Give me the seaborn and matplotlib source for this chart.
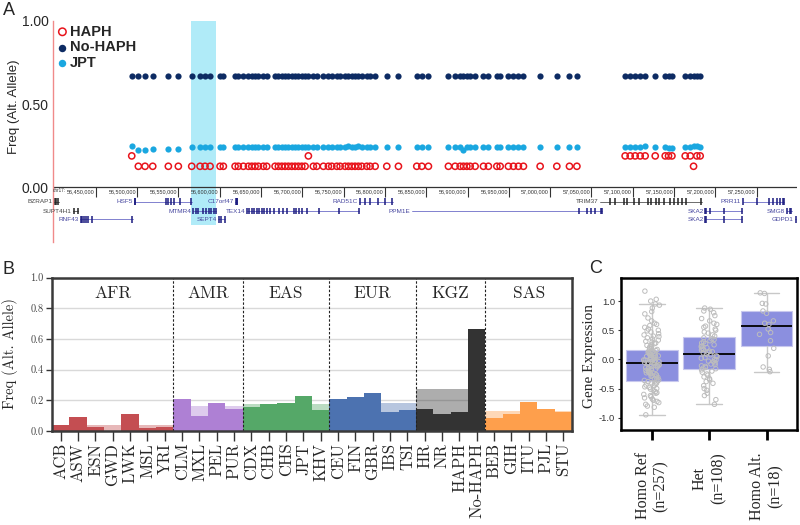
import numpy as np
import pandas as pd
import matplotlib
matplotlib.use("Agg")
import matplotlib.pyplot as plt
import seaborn as sns

sns.set_theme(style="white")
plt.rcParams['font.family'] = ['Liberation Sans', 'DejaVu Sans']
CM = ['cmr10', 'DejaVu Serif']
TIMES = ['Liberation Serif', 'DejaVu Serif']

# ---------------- panel A: allele frequency along chr17 ----------------
# SNP positions in kb
snp_kb = [56493.6, 56501.6, 56509.7, 56519.0, 56537.9, 56550.0, 56566.2, 56576.3, 56582.3, 56588.4,
          56600.5, 56604.5, 56618.7, 56622.6, 56628.7, 56634.8, 56638.9, 56642.9, 56646.9, 56652.9,
          56657.0, 56667.1, 56671.1, 56675.2, 56679.2, 56683.2, 56687.3, 56691.3, 56695.3, 56699.4,
          56703.4, 56707.4, 56713.4, 56717.6, 56725.6, 56731.6, 56735.7, 56741.8, 56745.8, 56751.8,
          56755.8, 56759.9, 56763.9, 56767.9, 56772.0, 56778.1, 56782.1, 56788.2, 56802.3, 56816.4,
          56838.6, 56844.7, 56852.7, 56876.9, 56885.0, 56891.1, 56895.1, 56899.2, 56903.2, 56909.2,
          56919.3, 56925.3, 56935.5, 56939.5, 56949.5, 56955.6, 56961.6, 56967.7, 56987.9, 57008.1,
          57023.4, 57032.4, 57090.8, 57096.9, 57102.9, 57109.0, 57115.0, 57127.2, 57139.3, 57143.3,
          57147.4, 57163.5, 57169.6, 57173.6, 57177.6, 57181.6]

haph_freq = [0.1875, 0.125, 0.125, 0.125, 0.125, 0.125, 0.125, 0.125, 0.125, 0.125,
             0.125, 0.125, 0.125, 0.125, 0.125, 0.125, 0.125, 0.125, 0.125, 0.125,
             0.125, 0.125, 0.125, 0.125, 0.125, 0.125, 0.125, 0.125, 0.125, 0.125,
             0.125, 0.1875, 0.125, 0.125, 0.125, 0.125, 0.125, 0.125, 0.125, 0.125,
             0.125, 0.125, 0.125, 0.125, 0.125, 0.125, 0.125, 0.125, 0.125, 0.125,
             0.125, 0.125, 0.125, 0.125, 0.125, 0.125, 0.125, 0.125, 0.125, 0.125,
             0.125, 0.125, 0.125, 0.125, 0.125, 0.125, 0.125, 0.125, 0.125, 0.125,
             0.125, 0.125, 0.1875, 0.1875, 0.1875, 0.1875, 0.1875, 0.1875, 0.1875, 0.1875,
             0.1875, 0.1875, 0.1875, 0.125, 0.1875, 0.1875]

no_haph_freq = [0.667, 0.667, 0.667, 0.667, 0.667, 0.667, 0.667, 0.667, 0.667, 0.667,
                0.667, 0.667, 0.667, 0.667, 0.667, 0.667, 0.667, 0.667, 0.667, 0.667,
                0.667, 0.667, 0.667, 0.667, 0.667, 0.667, 0.667, 0.667, 0.667, 0.667,
                0.667, 0.667, 0.667, 0.667, 0.667, 0.667, 0.667, 0.667, 0.667, 0.667,
                0.667, 0.667, 0.667, 0.667, 0.667, 0.667, 0.667, 0.667, 0.667, 0.667,
                0.667, 0.667, 0.667, 0.667, 0.667, 0.667, 0.667, 0.667, 0.667, 0.667,
                0.667, 0.667, 0.667, 0.667, 0.667, 0.667, 0.667, 0.667, 0.667, 0.667,
                0.667, 0.667, 0.667, 0.667, 0.667, 0.667, 0.667, 0.667, 0.667, 0.667,
                0.667, 0.667, 0.667, 0.667, 0.667, 0.667]

jpt_freq = [0.245, 0.225, 0.225, 0.228, 0.23, 0.232, 0.24, 0.24, 0.24, 0.24,
            0.24, 0.24, 0.242, 0.242, 0.24, 0.24, 0.24, 0.24, 0.24, 0.24,
            0.24, 0.24, 0.24, 0.24, 0.24, 0.24, 0.24, 0.24, 0.24, 0.24,
            0.24, 0.24, 0.24, 0.24, 0.24, 0.24, 0.24, 0.24, 0.24, 0.24,
            0.245, 0.24, 0.24, 0.245, 0.24, 0.24, 0.24, 0.24, 0.24, 0.24,
            0.24, 0.24, 0.24, 0.24, 0.24, 0.24, 0.222, 0.24, 0.24, 0.24,
            0.24, 0.24, 0.24, 0.24, 0.24, 0.24, 0.24, 0.24, 0.24, 0.24,
            0.24, 0.24, 0.24, 0.24, 0.24, 0.24, 0.245, 0.24, 0.24, 0.235,
            0.235, 0.24, 0.24, 0.245, 0.245, 0.24]

highlight_kb = (56565.4, 56595.6)
genome_ticks_kb = [56450, 56500, 56550, 56600, 56650, 56700, 56750, 56800, 56850,
                   56900, 56950, 57000, 57050, 57100, 57150, 57200, 57250]

# gene track: name, start, end, row, exon positions (kb)
gene_names = ['BZRAP1', 'SUPT4H1', 'RNF43', 'HSF5', 'MTMR4', 'SEPT4', 'C17orf47', 'TEX14',
              'RAD51C', 'PPM1E', 'TRIM37', 'SKA2', 'SKA2', 'PRR11', 'SMG8', 'GDPD1']
gene_start = [56399.5, 56423.0, 56431.0, 56496.4, 56567.4, 56598.4, 56619.0, 56632.8,
              56769.0, 56832.6, 57060.5, 57187.7, 57187.7, 57233.3, 57286.6, 57296.6]
gene_end = [56405.6, 56429.0, 56494.8, 56566.2, 56595.6, 56606.5, 56621.5, 56769.0,
            56810.0, 57062.6, 57183.7, 57232.0, 57232.0, 57283.3, 57292.7, 57298.0]
gene_row = [0, 1, 2, 0, 1, 2, 0, 1, 0, 1, 0, 1, 2, 0, 1, 2]
gene_exons = [[56400.5, 56402.5, 56404.5],
              [56423.5, 56428.5],
              [56432, 56434, 56436, 56438, 56441, 56446, 56494],
              [56497, 56497.8, 56535, 56538, 56541, 56545, 56552, 56565],
              [56568, 56571, 56574, 56580, 56584, 56587, 56590, 56593, 56595],
              [56599, 56602, 56606],
              [56619.5, 56620.5, 56621.3],
              [56633, 56636, 56639, 56642, 56645, 56648, 56651, 56654, 56657, 56661, 56666,
               56672, 56677, 56681, 56690, 56693, 56696, 56700, 56706, 56720, 56745, 56769],
              [56770, 56776, 56782, 56792, 56800, 56809],
              [57035, 57045, 57050, 57054, 57061, 57062.5],
              [57072, 57078, 57090, 57093, 57102, 57108, 57118, 57122, 57128, 57132, 57138,
               57145, 57150, 57155, 57160, 57165, 57183],
              [57188, 57188.8, 57194, 57210, 57232],
              [57188, 57188.8, 57210, 57232],
              [57234, 57250, 57265, 57270, 57275, 57278, 57282, 57283.3],
              [57287, 57290, 57292],
              [57297]]
gene_dark = ['BZRAP1', 'SUPT4H1', 'TRIM37']

# ---------------- panel B: population frequencies ----------------
pops = ['ACB', 'ASW', 'ESN', 'GWD', 'LWK', 'MSL', 'YRI',
        'CLM', 'MXL', 'PEL', 'PUR',
        'CDX', 'CHB', 'CHS', 'JPT', 'KHV',
        'CEU', 'FIN', 'GBR', 'IBS', 'TSI',
        'HR', 'NR', 'HAPH', 'No-HAPH',
        'BEB', 'GIH', 'ITU', 'PJL', 'STU']
pop_group = ['AFR'] * 7 + ['AMR'] * 4 + ['EAS'] * 5 + ['EUR'] * 5 + ['KGZ'] * 4 + ['SAS'] * 5
pop_freq = [0.040, 0.090, 0.028, 0.000, 0.109, 0.017, 0.028,
            0.211, 0.100, 0.181, 0.142,
            0.159, 0.178, 0.180, 0.229, 0.137,
            0.209, 0.222, 0.246, 0.126, 0.137,
            0.144, 0.111, 0.122, 0.667,
            0.087, 0.111, 0.192, 0.146, 0.126]
groups = ['AFR', 'AMR', 'EAS', 'EUR', 'KGZ', 'SAS']
group_mean = [0.037, 0.160, 0.176, 0.185, 0.272, 0.130]
group_colors = ['#c44e52', '#ae80d4', '#55a868', '#4c72b0', '#333333', '#fe9f4c']

# ---------------- panel C: gene expression by genotype ----------------
genotypes = ['Homo Ref\n(n=257)', 'Het\n(n=108)', 'Homo Alt.\n(n=18)']
box_q1 = [-0.37, -0.17, 0.23]
box_med = [-0.06, 0.10, 0.57]
box_q3 = [0.16, 0.38, 0.83]
whis_lo = [-0.95, -0.77, -0.21]
whis_hi = [0.95, 0.88, 1.14]

expr_ref = [1.17, 1.03, 1.00, 0.95, 0.93, 0.88, 0.82, 0.78, 0.71, 0.66, 0.62, 0.60, 0.58, 0.55,
            0.52, 0.50, 0.49, 0.47, 0.44, 0.42, 0.40, 0.39, 0.37, 0.35, 0.33, 0.31, 0.30, 0.28,
            0.27, 0.25, 0.24, 0.22, 0.21, 0.19, 0.18, 0.17,
            0.15, 0.14, 0.13, 0.12, 0.12, 0.11, 0.10, 0.09, 0.08, 0.07, 0.07, 0.06, 0.05, 0.04,
            0.03, 0.03, 0.02, 0.01, 0.00, -0.01, -0.01, -0.02, -0.03, -0.03, -0.04, -0.05,
            -0.05, -0.06,
            -0.07, -0.08, -0.09, -0.10, -0.11, -0.12, -0.13, -0.14, -0.15, -0.16, -0.17, -0.18,
            -0.19, -0.20, -0.21, -0.22, -0.23, -0.24, -0.25, -0.26, -0.27, -0.28, -0.29, -0.30,
            -0.31, -0.33, -0.34, -0.35, -0.36, -0.37,
            -0.38, -0.40, -0.41, -0.42, -0.44, -0.45, -0.47, -0.48, -0.50, -0.51, -0.53, -0.55,
            -0.57, -0.58, -0.60, -0.62, -0.64, -0.66, -0.68, -0.70, -0.72, -0.74, -0.77, -0.80,
            -0.82, -0.95]
expr_het = [0.88, 0.86, 0.83, 0.80, 0.75, 0.70, 0.66, 0.62, 0.60, 0.57, 0.55, 0.52, 0.50, 0.47,
            0.45, 0.42, 0.40,
            0.37, 0.35, 0.34, 0.32, 0.30, 0.28, 0.27, 0.25, 0.23, 0.22, 0.20, 0.19, 0.17, 0.16,
            0.14, 0.13, 0.12, 0.11,
            0.09, 0.08, 0.06, 0.05, 0.03, 0.02, 0.00, -0.01, -0.03, -0.04, -0.06, -0.08, -0.09,
            -0.11, -0.12, -0.14, -0.15, -0.16,
            -0.18, -0.20, -0.22, -0.25, -0.27, -0.30, -0.33, -0.35, -0.38, -0.41, -0.45, -0.50,
            -0.53, -0.58, -0.62, -0.69, -0.77]
expr_alt = [1.14, 1.13, 0.96, 0.95, 0.83, 0.79, 0.66, 0.62, 0.60, 0.52, 0.46, 0.43, 0.32, 0.19,
            0.06, -0.13, -0.17, -0.21]

fig = plt.figure(figsize=(8, 5.25), dpi=100)

# ======================= A =======================
axA = fig.add_axes([53 / 800, 1 - 242 / 525, 744 / 800, 221 / 525])
axA.axvspan(*highlight_kb, ymin=17 / 221, ymax=1, color='#b0ebf8', lw=0, zorder=0)

dfA = pd.DataFrame({'pos': snp_kb, 'HAPH': haph_freq, 'No-HAPH': no_haph_freq, 'JPT': jpt_freq})
sns.scatterplot(data=dfA, x='pos', y='HAPH', ax=axA, s=20, facecolor='none',
                edgecolor='#e8141c', linewidth=1.1, label='HAPH', zorder=3)
sns.scatterplot(data=dfA, x='pos', y='No-HAPH', ax=axA, s=20, color='#0d2b63',
                edgecolor='#0d2b63', linewidth=0, label='No-HAPH', zorder=3)
sns.scatterplot(data=dfA, x='pos', y='JPT', ax=axA, s=20, color='#1aa7e0',
                edgecolor='#1aa7e0', linewidth=0, label='JPT', zorder=3)

axA.set_xlim(56398.3, 57298.8)
axA.set_ylim(-0.331, 1.0)
axA.set_yticks([0, 0.5, 1.0])
axA.set_yticklabels(['0.00', '0.50', '1.00'], fontsize=10)
axA.tick_params(axis='y', length=0, pad=3)
axA.set_xticks([])
axA.set_xlabel('')
axA.set_ylabel('')
for side in ['top', 'right', 'bottom']:
    axA.spines[side].set_visible(False)
axA.spines['left'].set_color('#f08a8a')
axA.spines['left'].set_linewidth(1.0)

axA.legend(loc='upper left', bbox_to_anchor=(-0.006, 1.01), frameon=False,
           prop={'weight': 'bold', 'size': 10.5}, handletextpad=-0.05,
           labelspacing=0.12, borderaxespad=0.0, handlelength=1.1, markerscale=1.2)
fig.text(14 / 800, 1 - 107 / 525, 'Freq (Alt. Allele)', rotation=90, ha='center', va='center',
         fontsize=9.5)

# genomic axis
axA.axhline(0, color='#333333', lw=0.9, zorder=2)
axA.vlines(genome_ticks_kb, -0.06, 0, color='#333333', lw=0.8)
for t in genome_ticks_kb:
    axA.text(t - 1.2, -0.014, f'{t * 1000:,}', ha='right', va='top', fontsize=4.0, color='#333333')
axA.text(56398.6, -0.006, 'chr17:', ha='left', va='top', fontsize=3.3, color='#333333')

row_y = [-0.089, -0.145, -0.195]
for name, st, en, row, ex in zip(gene_names, gene_start, gene_end, gene_row, gene_exons):
    y = row_y[row]
    dark = name in gene_dark
    lc = '#555555' if dark else '#6c6cc8'
    ec = '#222222' if dark else '#1b1b80'
    tc = '#444444' if dark else '#4848a0'
    axA.plot([st, en], [y, y], color=lc, lw=0.6, clip_on=False)
    axA.vlines(ex, y - 0.02, y + 0.02, color=ec, lw=1.1, clip_on=False)
    axA.text(st - 2.0, y, name, ha='right', va='center', fontsize=4.6, color=tc, clip_on=False)

# ======================= B =======================
axB = fig.add_axes([52 / 800, 1 - 431 / 525, 520 / 800, 153.3 / 525])
dfB = pd.DataFrame({'pop': pops, 'group': pop_group, 'freq': pop_freq})
dfB['mean'] = dfB['group'].map(dict(zip(groups, group_mean)))
pal = {p: dict(zip(groups, group_colors))[g] for p, g in zip(pops, pop_group)}

axB.yaxis.grid(True, color='#d9d9d9', lw=1)
axB.set_axisbelow(True)
sns.barplot(data=dfB, x='pop', y='mean', hue='pop', order=pops, palette=pal, width=1,
            saturation=1, alpha=0.4, errorbar=None, legend=False, ax=axB, linewidth=0)
sns.barplot(data=dfB, x='pop', y='freq', hue='pop', order=pops, palette=pal, width=1,
            saturation=1, errorbar=None, legend=False, ax=axB, linewidth=0)

axB.set_xlim(-0.5, len(pops) - 0.5)
axB.set_ylim(0, 1.0)
axB.set_xlabel('')
axB.set_ylabel('')
bounds = []
for g in groups:
    idx = [i for i, pg in enumerate(pop_group) if pg == g]
    axB.text(np.mean(idx), 0.9, g, ha='center', va='center', fontsize=12.5, family=CM)
    bounds.append(idx[-1] + 0.5)
for b in bounds[:-1]:
    axB.axvline(b, color='#222222', ls=(0, (2.2, 1.6)), lw=0.8)

axB.set_xticks(range(len(pops)))
axB.set_xticklabels(pops, rotation=90, fontsize=12, family=CM)
axB.set_yticks([0, 0.2, 0.4, 0.6, 0.8, 1.0])
axB.set_yticklabels(['0.0', '0.2', '0.4', '0.6', '0.8', '1.0'], fontsize=7.5, family=CM,
                    color='#444444')
axB.tick_params(axis='x', bottom=True, direction='out', length=7, width=1, color='#333333', pad=1.5)
axB.tick_params(axis='y', left=True, direction='out', length=4, width=1, color='#333333', pad=2)
for side in axB.spines:
    axB.spines[side].set_color('#3a3a3a')
    axB.spines[side].set_linewidth(1.8)
fig.text(10 / 800, 1 - 354 / 525, 'Freq (Alt. Allele)', rotation=90, ha='center', va='center',
         fontsize=10.5, family=CM)

# ======================= C =======================
axC = fig.add_axes([620.7 / 800, 1 - 430 / 525, 176.3 / 800, 152.3 / 525])
stats = [dict(med=m, q1=a, q3=b, whislo=lo, whishi=hi, fliers=[])
         for m, a, b, lo, hi in zip(box_med, box_q1, box_q3, whis_lo, whis_hi)]
axC.bxp(stats, positions=[0, 1, 2], widths=0.9, patch_artist=True, showfliers=False,
        boxprops=dict(facecolor='#8b8fdf', edgecolor='#c8c8ee', lw=0.8),
        medianprops=dict(color='black', lw=1.3),
        whiskerprops=dict(color='#c8c8c8', lw=1.0),
        capprops=dict(color='#c8c8c8', lw=1.0), capwidths=0.45)

dfC = pd.DataFrame({'geno': [genotypes[0]] * len(expr_ref) + [genotypes[1]] * len(expr_het)
                    + [genotypes[2]] * len(expr_alt),
                    'expr': expr_ref + expr_het + expr_alt})
np.random.seed(7)
sns.stripplot(data=dfC, x='geno', y='expr', order=genotypes, jitter=0.14, size=3.2,
              color='#bdbdbd', ax=axC, zorder=4)
for coll in axC.collections:
    coll.set_facecolor('none')
    coll.set_edgecolor('#bdbdbd')
    coll.set_linewidth(0.7)

axC.set_xlim(-0.54, 2.53)
axC.set_ylim(-1.21, 1.4)
axC.set_xlabel('')
axC.set_ylabel('')
axC.set_xticks([0, 1, 2])
axC.set_xticklabels(genotypes, rotation=90, fontsize=11.5, family=TIMES,
                    va='top', ha='center', multialignment='center')
axC.set_yticks([-1.0, -0.5, 0, 0.5, 1.0])
axC.set_yticklabels(['-1.0', '-0.5', '0.0', '0.5', '1.0'], fontsize=6.8, color='#333333')
axC.tick_params(axis='x', bottom=True, direction='out', length=7, width=2, color='black', pad=9)
axC.tick_params(axis='y', left=True, direction='out', length=2.5, width=0.8, color='#333333', pad=1.5)
for side in axC.spines:
    axC.spines[side].set_color('black')
    axC.spines[side].set_linewidth(1.8)
fig.text(590 / 800, 1 - 356 / 525, 'Gene Expression', rotation=90, ha='center', va='center',
         fontsize=11, family=TIMES)

# panel letters
fig.text(3 / 800, 1 - 15 / 525, 'A', fontsize=13, va='baseline')
fig.text(3 / 800, 1 - 274 / 525, 'B', fontsize=13, va='baseline')
fig.text(589 / 800, 1 - 273 / 525, 'C', fontsize=13, va='baseline')

fig.savefig('out.png', dpi=100)
